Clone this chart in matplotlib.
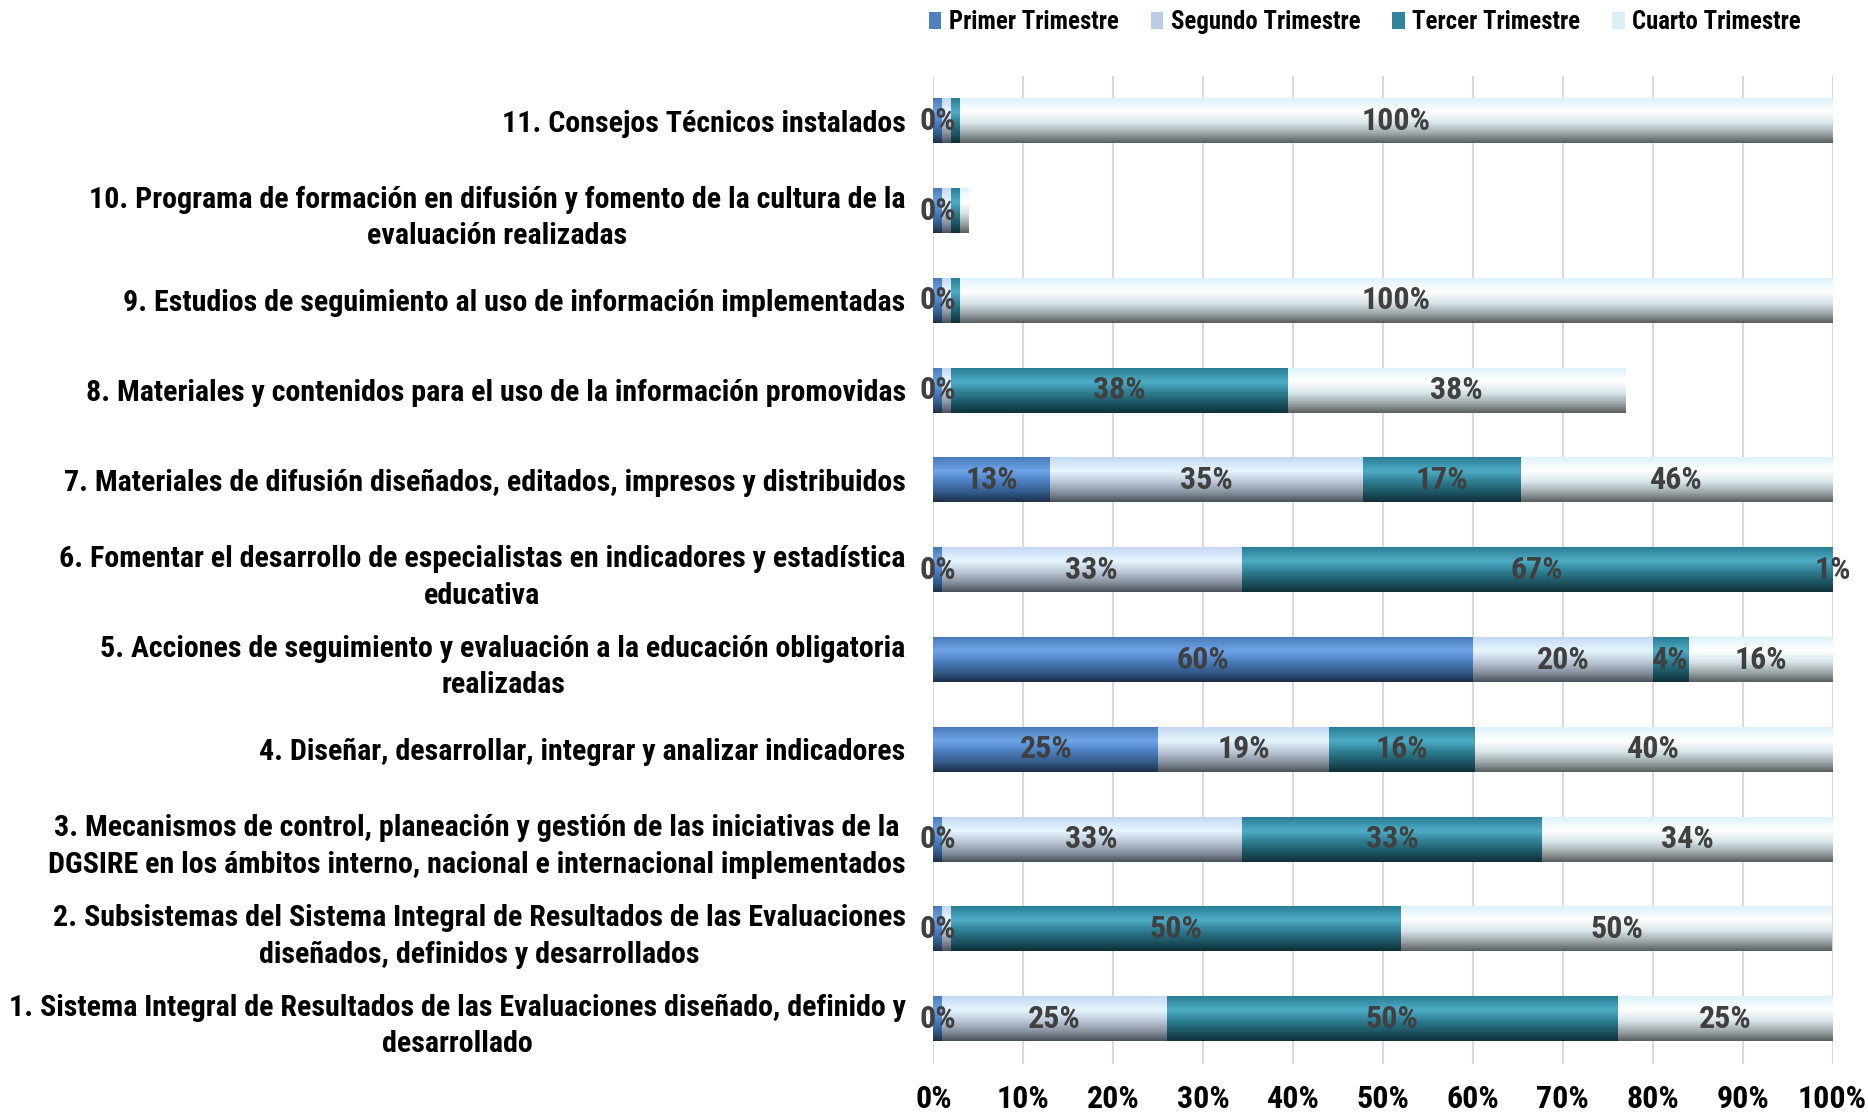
import numpy as np
import matplotlib
matplotlib.use("Agg")
import matplotlib.pyplot as plt
from matplotlib import font_manager

# categorías (de abajo hacia arriba)
categorias = [
    "1. Sistema Integral de Resultados de las Evaluaciones diseñado, definido y\ndesarrollado",
    "2. Subsistemas del Sistema Integral de Resultados de las Evaluaciones\ndiseñados, definidos y desarrollados",
    "3. Mecanismos de control, planeación y gestión de las iniciativas de la\nDGSIRE en los ámbitos interno, nacional e internacional implementados",
    "4. Diseñar, desarrollar, integrar y analizar indicadores",
    "5. Acciones de seguimiento y evaluación a la educación obligatoria\nrealizadas",
    "6. Fomentar el desarrollo de especialistas en indicadores y estadística\neducativa",
    "7. Materiales de difusión diseñados, editados, impresos y distribuidos",
    "8. Materiales y contenidos para el uso de la información promovidas",
    "9. Estudios de seguimiento al uso de información implementadas",
    "10. Programa de formación en difusión y fomento de la cultura de la\nevaluación realizadas",
    "11. Consejos Técnicos instalados",
]

series = ["Primer Trimestre", "Segundo Trimestre", "Tercer Trimestre", "Cuarto Trimestre"]

# anchos de los segmentos (%)
primer  = [0.9, 0.9, 0.9, 25.0, 60.0, 0.9, 13.0, 0.9, 0.9, 0.9, 0.9]
segundo = [25.1, 1.05, 33.4, 19.0, 20.0, 33.4, 34.8, 1.0, 1.0, 1.0, 1.0]
tercer  = [50.1, 50.1, 33.4, 16.2, 4.0, 65.7, 17.5, 37.5, 1.0, 1.0, 1.0]
cuarto  = [23.9, 47.9, 32.3, 39.8, 16.0, 0.0, 34.7, 37.5, 97.1, 1.0, 97.1]

# etiquetas de datos tal como aparecen
et_primer  = ["0%", "0%", "0%", "25%", "60%", "0%", "13%", "0%", "0%", "0%", "0%"]
et_segundo = ["25%", "", "33%", "19%", "20%", "33%", "35%", "", "", "", ""]
et_tercer  = ["50%", "50%", "33%", "16%", "4%", "67%", "17%", "38%", "", "", ""]
et_cuarto  = ["25%", "50%", "34%", "40%", "16%", "1%", "46%", "38%", "100%", "", "100%"]

xticks = list(range(0, 101, 10))
xtick_labels = ["0%", "10%", "20%", "30%", "40%", "50%", "60%", "70%", "80%", "90%", "100%"]

colores = ["#4F81BD", "#B9CDE5", "#31849B", "#DBEEF4"]

# degradados verticales (arriba -> abajo)
stops = [0.0, 0.3, 0.55, 0.8, 1.0]
degradados = [
    ["#4A7AB8", "#6EA6EA", "#4B7DBF", "#325987", "#1D2F4A"],
    ["#C4D8F2", "#E6F6FF", "#BCC8D8", "#858F9C", "#4B525C"],
    ["#2A7E93", "#4EADC7", "#2E7E92", "#1C5361", "#10303A"],
    ["#DDF3FA", "#FFFFFF", "#D8E5E9", "#9AA3A6", "#5A5F61"],
]


def pick_font():
    avail = {f.name for f in font_manager.fontManager.ttflist}
    for cand in ["Liberation Sans Narrow", "Roboto Condensed", "Open Sans Condensed", "Lato", "Roboto"]:
        if cand in avail:
            return cand
    return "DejaVu Sans"


def gradiente(cols, n=64):
    rgb = np.array([matplotlib.colors.to_rgb(c) for c in cols])
    t = np.linspace(0, 1, n)
    arr = np.stack([np.interp(t, stops, rgb[:, k]) for k in range(3)], axis=1)
    return arr[:, None, :]


def main():
    fuente = pick_font()
    plt.rcParams["font.family"] = [fuente, "DejaVu Sans"]
    plt.rcParams["font.weight"] = "bold"

    fig = plt.figure(figsize=(18.68, 11.13), dpi=100)
    ax = fig.add_axes([0.4997, 0.0444, 0.4813, 0.8873])

    y = np.arange(len(categorias))
    datos = [primer, segundo, tercer, cuarto]
    etiquetas = [et_primer, et_segundo, et_tercer, et_cuarto]

    left = np.zeros(len(categorias))
    contenedores = []
    for i, vals in enumerate(datos):
        bars = ax.barh(y, vals, left=left, height=0.5, color=colores[i],
                       label=series[i], zorder=1.5, linewidth=0)
        contenedores.append(bars)
        grad = gradiente(degradados[i])
        for p, txt in zip(bars.patches, etiquetas[i]):
            x0, y0, w, h = p.get_x(), p.get_y(), p.get_width(), p.get_height()
            if w > 0:
                ax.imshow(grad, extent=(x0, x0 + w, y0, y0 + h), aspect="auto",
                          interpolation="bilinear", zorder=2)
            if txt:
                ax.text(x0 + w / 2, y0 + h / 2, txt, ha="center", va="center",
                        fontsize=23, color="#404040", fontweight="bold", zorder=3)
        left = left + np.array(vals)

    ax.set_xlim(0, 100)
    ax.set_ylim(-0.5, len(categorias) - 0.5)
    ax.set_aspect("auto")

    ax.set_xticks(xticks)
    ax.set_xticklabels(xtick_labels, fontsize=23, fontweight="bold", color="black")
    ax.set_yticks(y)
    ax.set_yticklabels(categorias, fontsize=21.6, fontweight="bold", color="black",
                       multialignment="center", linespacing=1.4)
    ax.tick_params(axis="x", length=0, pad=15)
    ax.tick_params(axis="y", length=0, pad=20)

    ax.xaxis.grid(True, color="#D9D9D9", linewidth=1.5)
    ax.set_axisbelow(True)
    for s in ax.spines.values():
        s.set_visible(False)

    fig.legend(handles=contenedores, labels=series, loc="center left",
               bbox_to_anchor=(929 / 1868, 1 - 22 / 1113), ncol=4, frameon=False,
               fontsize=17.8, handlelength=0.5, handleheight=0.7,
               handletextpad=0.3, columnspacing=1.3, borderpad=0, borderaxespad=0)

    fig.savefig("out.png", dpi=100)


if __name__ == "__main__":
    main()
